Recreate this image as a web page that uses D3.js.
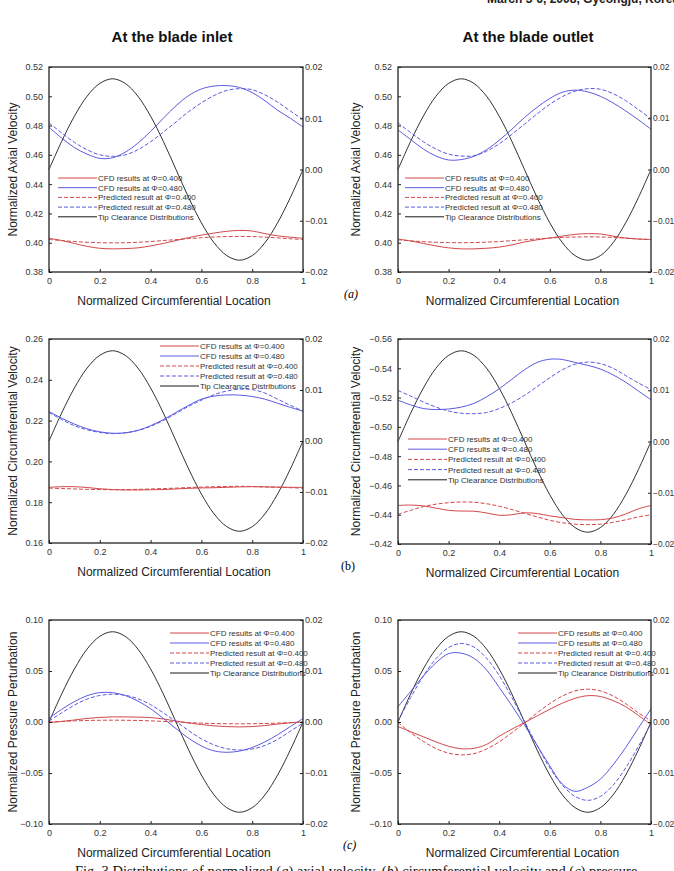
<!DOCTYPE html>
<html lang="en">
<head>
<meta charset="utf-8">
<title>Fig. 3 Distributions</title>
<script src="https://cdn.jsdelivr.net/npm/d3@7"></script>
<style>
  body { margin: 0; background: #fff; }
  svg { display: block; font-family: "Liberation Sans", Arial, sans-serif; }
  .tick text { fill: #333; font-size: 9px; }
  .rt .tick text { font-size: 8.4px; }
  .leg { fill: #333; font-size: 8px; }
  .ttl { font-size: 12px; fill: #222; }
</style>
</head>
<body>
<svg id="chart" width="674" height="871"></svg>
<script>
var locs = [0,0.05,0.1,0.15,0.2,0.25,0.3,0.35,0.4,0.45,0.5,0.55,0.6,0.65,0.7,0.75,0.8,0.85,0.9,0.95,1];
var xTicks = [0,0.2,0.4,0.6,0.8,1];
var tipTicks = [-0.02,-0.01,0,0.01,0.02];

// tip clearance (right axis), same for all panels
var tipClear = [0,0.0055,0.0104,0.0143,0.0168,0.0177,0.0168,0.0143,0.0104,0.0055,0,-0.0055,-0.0104,-0.0143,-0.0168,-0.0177,-0.0168,-0.0143,-0.0104,-0.0055,0];

// (a) axial velocity, inlet
var axInCfd400 = [0.4030,0.4015,0.3995,0.3975,0.3962,0.3958,0.3960,0.3965,0.3978,0.3995,0.4015,0.4035,0.4052,0.4066,0.4078,0.4084,0.4080,0.4062,0.4047,0.4038,0.4030];
var axInCfd480 = [0.4788,0.4715,0.4650,0.4605,0.4576,0.4580,0.4618,0.4680,0.4760,0.4850,0.4935,0.5005,0.5050,0.5070,0.5073,0.5060,0.5025,0.4970,0.4905,0.4850,0.4790];
var axInPre400 = [0.4022,0.4015,0.4008,0.4003,0.4000,0.3999,0.4000,0.4003,0.4008,0.4015,0.4021,0.4028,0.4034,0.4039,0.4042,0.4043,0.4042,0.4038,0.4033,0.4027,0.4022];
var axInPre480 = [0.4818,0.4750,0.4685,0.4635,0.4600,0.4590,0.4600,0.4635,0.4690,0.4755,0.4825,0.4895,0.4955,0.5005,0.5040,0.5052,0.5045,0.5010,0.4960,0.4900,0.4840];
// (a) axial velocity, outlet
var axOutCfd400 = [0.4025,0.4012,0.3995,0.3978,0.3965,0.3958,0.3958,0.3962,0.3970,0.3985,0.4005,0.4020,0.4032,0.4045,0.4057,0.4062,0.4060,0.4045,0.4032,0.4025,0.4022];
var axOutCfd480 = [0.4770,0.4705,0.4640,0.4592,0.4565,0.4568,0.4590,0.4635,0.4700,0.4775,0.4855,0.4925,0.4985,0.5028,0.5042,0.5030,0.5000,0.4955,0.4900,0.4840,0.4775];
var axOutPre400 = [0.4020,0.4013,0.4007,0.4003,0.4001,0.4000,0.4001,0.4004,0.4008,0.4014,0.4020,0.4026,0.4032,0.4036,0.4039,0.4040,0.4039,0.4036,0.4031,0.4026,0.4021];
var axOutPre480 = [0.4818,0.4752,0.4690,0.4640,0.4605,0.4592,0.4594,0.4625,0.4675,0.4740,0.4810,0.4880,0.4945,0.4998,0.5035,0.5052,0.5048,0.5018,0.4970,0.4910,0.4847];

// (b) circumferential velocity, inlet
var cvInCfd400 = [0.1873,0.1876,0.1876,0.1872,0.1866,0.1862,0.1860,0.1860,0.1861,0.1862,0.1865,0.1868,0.1870,0.1871,0.1873,0.1875,0.1876,0.1875,0.1874,0.1873,0.1873];
var cvInCfd480 = [0.2244,0.2212,0.2183,0.2160,0.2145,0.2138,0.2140,0.2152,0.2175,0.2205,0.2240,0.2275,0.2305,0.2320,0.2326,0.2325,0.2318,0.2305,0.2285,0.2265,0.2246];
var cvInPre400 = [0.1869,0.1867,0.1865,0.1863,0.1862,0.1861,0.1862,0.1863,0.1865,0.1867,0.1869,0.1872,0.1874,0.1876,0.1877,0.1878,0.1877,0.1875,0.1873,0.1871,0.1869];
var cvInPre480 = [0.2240,0.2205,0.2175,0.2155,0.2142,0.2136,0.2140,0.2152,0.2172,0.2200,0.2235,0.2270,0.2300,0.2327,0.2345,0.2354,0.2352,0.2335,0.2305,0.2275,0.2247];
// (b) circumferential velocity, outlet
var cvOutCfd400 = [-0.4463,-0.4466,-0.4460,-0.4445,-0.4430,-0.4425,-0.4424,-0.4412,-0.4396,-0.4400,-0.4413,-0.4408,-0.4392,-0.4380,-0.4368,-0.4365,-0.4366,-0.4378,-0.4405,-0.4440,-0.4463];
var cvOutCfd480 = [-0.5182,-0.5150,-0.5125,-0.5118,-0.5122,-0.5135,-0.5160,-0.5205,-0.5260,-0.5325,-0.5390,-0.5440,-0.5462,-0.5460,-0.5440,-0.5420,-0.5395,-0.5355,-0.5305,-0.5245,-0.5185];
var cvOutPre400 = [-0.4403,-0.4430,-0.4455,-0.4472,-0.4482,-0.4487,-0.4485,-0.4475,-0.4458,-0.4435,-0.4410,-0.4385,-0.4362,-0.4345,-0.4335,-0.4332,-0.4335,-0.4348,-0.4365,-0.4385,-0.4400];
var cvOutPre480 = [-0.5248,-0.5210,-0.5170,-0.5135,-0.5108,-0.5093,-0.5090,-0.5098,-0.5125,-0.5165,-0.5215,-0.5275,-0.5335,-0.5390,-0.5428,-0.5442,-0.5432,-0.5400,-0.5350,-0.5300,-0.5255];

// (c) pressure perturbation, inlet
var ppInCfd400 = [-0.0005,0.0005,0.0020,0.0035,0.0045,0.0050,0.0050,0.0048,0.0043,0.0030,0.0010,-0.0010,-0.0025,-0.0038,-0.0045,-0.0048,-0.0045,-0.0035,-0.0020,-0.0008,0.0000];
var ppInCfd480 = [0.0035,0.0125,0.0200,0.0258,0.0288,0.0288,0.0260,0.0205,0.0130,0.0035,-0.0065,-0.0160,-0.0235,-0.0283,-0.0297,-0.0285,-0.0250,-0.0195,-0.0125,-0.0045,0.0035];
var ppInPre400 = [0.0000,0.0006,0.0011,0.0015,0.0017,0.0018,0.0017,0.0015,0.0011,0.0006,0.0000,-0.0006,-0.0011,-0.0015,-0.0017,-0.0018,-0.0017,-0.0015,-0.0011,-0.0006,0.0000];
var ppInPre480 = [0.0010,0.0090,0.0165,0.0225,0.0260,0.0272,0.0262,0.0228,0.0170,0.0090,0.0005,-0.0085,-0.0165,-0.0225,-0.0262,-0.0275,-0.0265,-0.0230,-0.0170,-0.0090,-0.0010];
// (c) pressure perturbation, outlet
var ppOutCfd400 = [-0.0045,-0.0095,-0.0145,-0.0195,-0.0238,-0.0262,-0.0258,-0.0220,-0.0140,-0.0070,-0.0005,0.0060,0.0125,0.0185,0.0232,0.0258,0.0250,0.0210,0.0150,0.0065,-0.0025];
var ppOutCfd480 = [0.0150,0.0300,0.0450,0.0580,0.0670,0.0675,0.0625,0.0510,0.0340,0.0160,-0.0030,-0.0230,-0.0430,-0.0610,-0.0680,-0.0640,-0.0560,-0.0420,-0.0250,-0.0060,0.0130];
var ppOutPre400 = [-0.0005,-0.0105,-0.0190,-0.0260,-0.0305,-0.0322,-0.0310,-0.0265,-0.0195,-0.0105,-0.0010,0.0090,0.0180,0.0255,0.0305,0.0322,0.0305,0.0255,0.0180,0.0090,0.0010];
var ppOutPre480 = [0.0010,0.0240,0.0450,0.0620,0.0730,0.0770,0.0735,0.0625,0.0455,0.0240,0.0005,-0.0230,-0.0450,-0.0620,-0.0730,-0.0768,-0.0730,-0.0620,-0.0450,-0.0240,-0.0015];

var legendNames = ["CFD results at \u03a6=0.400","CFD results at \u03a6=0.480","Predicted result at \u03a6=0.400","Predicted result at \u03a6=0.480","Tip Clearance Distributions"];

var axTicks = [0.38,0.40,0.42,0.44,0.46,0.48,0.50,0.52];
var cvInTicks = [0.16,0.18,0.20,0.22,0.24,0.26];
var cvOutTicks = [-0.56,-0.54,-0.52,-0.50,-0.48,-0.46,-0.44,-0.42];
var ppTicks = [-0.10,-0.05,0,0.05,0.10];

var RED = "#d2484a", BLUE = "#5a5ae0", BLACK = "#1a1a1a";

var panels = [
  {box:[49,303,67,272], dom:[0.38,0.52], ticks:axTicks, ylab:"Normalized Axial Velocity", ylx:13, leg:[58,178,9.7],
   s:[axInCfd400,axInCfd480,axInPre400,axInPre480]},
  {box:[398,651,67,272], dom:[0.38,0.52], ticks:axTicks, ylab:"Normalized Axial Velocity", ylx:356, leg:[405,178,9.7],
   s:[axOutCfd400,axOutCfd480,axOutPre400,axOutPre480]},
  {box:[49,303,339,543], dom:[0.16,0.26], ticks:cvInTicks, ylab:"Normalized Circumferential  Velocity", ylx:13, leg:[160,346,10],
   s:[cvInCfd400,cvInCfd480,cvInPre400,cvInPre480]},
  {box:[398,651,339,544], dom:[-0.42,-0.56], ticks:cvOutTicks, ylab:"Normalized Circumferential Velocity", ylx:356, leg:[408,439,10.2],
   s:[cvOutCfd400,cvOutCfd480,cvOutPre400,cvOutPre480]},
  {box:[49,303,620,824], dom:[-0.10,0.10], ticks:ppTicks, ylab:"Normalized Pressure Perturbation", ylx:13, leg:[170,633,10],
   s:[ppInCfd400,ppInCfd480,ppInPre400,ppInPre480]},
  {box:[398,651,620,824], dom:[-0.10,0.10], ticks:ppTicks, ylab:"Normalized Pressure Perturbation", ylx:356, leg:[518,633,10],
   s:[ppOutCfd400,ppOutCfd480,ppOutPre400,ppOutPre480]}
];

var styles = [
  {c:RED, d:null}, {c:BLUE, d:null}, {c:RED, d:"4,2"}, {c:BLUE, d:"4,2"}, {c:BLACK, d:null}
];

var svg = d3.select("#chart");

function fmt2(v){ return v === 0 ? "0.00" : d3.format(".2f")(v); }
function xfmt(v){ return String(v); }

panels.forEach(function(p){
  var x = d3.scaleLinear().domain([0,1]).range([p.box[0], p.box[1]]);
  var y = d3.scaleLinear().domain(p.dom).range([p.box[3], p.box[2]]);
  var y2 = d3.scaleLinear().domain([-0.02,0.02]).range([p.box[3], p.box[2]]);
  var g = svg.append("g");

  var line = d3.line().x(function(d,i){ return x(locs[i]); }).y(function(d){ return y(d); }).curve(d3.curveCatmullRom);
  var line2 = d3.line().x(function(d,i){ return x(locs[i]); }).y(function(d){ return y2(d); }).curve(d3.curveCatmullRom);

  // black tip clearance curve first, then data
  g.append("path").attr("d", line2(tipClear)).attr("fill","none")
    .attr("stroke", BLACK).attr("stroke-width", 0.9);
  p.s.forEach(function(arr, k){
    g.append("path").attr("d", line(arr)).attr("fill","none")
      .attr("stroke", styles[k].c).attr("stroke-width", 1)
      .attr("stroke-dasharray", styles[k].d);
  });

  // axes, ticks inside
  g.append("g").attr("transform","translate(0,"+p.box[3]+")")
    .call(d3.axisBottom(x).tickValues(xTicks).tickSizeInner(-3).tickSizeOuter(0).tickPadding(6).tickFormat(xfmt));
  g.append("g").attr("transform","translate("+p.box[0]+",0)")
    .call(d3.axisLeft(y).tickValues(p.ticks).tickSizeInner(-3).tickSizeOuter(0).tickPadding(6).tickFormat(fmt2));
  g.append("g").attr("class", p.box[1] > 600 ? "rt" : null).attr("transform","translate("+p.box[1]+",0)")
    .call(d3.axisRight(y2).tickValues(tipTicks).tickSizeInner(-3).tickSizeOuter(0).tickPadding(2).tickFormat(fmt2));
  g.selectAll(".domain").remove();
  g.selectAll(".tick line").attr("stroke","#222");
  g.append("rect").attr("x",p.box[0]).attr("y",p.box[2])
    .attr("width",p.box[1]-p.box[0]).attr("height",p.box[3]-p.box[2])
    .attr("fill","none").attr("stroke","#222").attr("stroke-width",1.3);

  // axis titles
  g.append("text").attr("class","ttl").attr("text-anchor","middle")
    .attr("transform","translate("+(p.ylx+4)+","+((p.box[2]+p.box[3])/2)+") rotate(-90)")
    .text(p.ylab);
  g.append("text").attr("class","ttl").attr("text-anchor","middle")
    .attr("x",(p.box[0]+p.box[1])/2 - 2).attr("y",p.box[3]+33)
    .text("Normalized Circumferential Location");

  // legend
  legendNames.forEach(function(name,k){
    var ly = p.leg[1] + k*p.leg[2];
    g.append("line").attr("x1",p.leg[0]).attr("x2",p.leg[0]+39).attr("y1",ly).attr("y2",ly)
      .attr("stroke",styles[k].c).attr("stroke-width",1).attr("stroke-dasharray",styles[k].d);
    g.append("text").attr("class","leg").attr("x",p.leg[0]+40).attr("y",ly+3).text(name);
  });
});

// column titles and header
svg.append("text").attr("x",172).attr("y",42).attr("text-anchor","middle")
  .attr("font-weight","bold").attr("font-size","15px").attr("fill","#111").text("At the blade inlet");
svg.append("text").attr("x",528).attr("y",42).attr("text-anchor","middle")
  .attr("font-weight","bold").attr("font-size","15px").attr("fill","#111").text("At the blade outlet");
svg.append("text").attr("x",487).attr("y",3).attr("font-weight","bold").attr("font-size","12px")
  .attr("fill","#222").text("March 3-6, 2008, Gyeongju, Korea");

// sub-figure labels
var serif = "'Liberation Serif', 'Times New Roman', serif";
svg.append("text").attr("x",344).attr("y",298).attr("font-family",serif).attr("font-style","italic")
  .attr("font-size","12px").text("(a)");
svg.append("text").attr("x",341).attr("y",570).attr("font-family",serif)
  .attr("font-size","12px").text("(b)");
svg.append("text").attr("x",343).attr("y",849).attr("font-family",serif).attr("font-style","italic")
  .attr("font-size","12px").text("(c)");

// caption (cut off by the bottom edge)
var cap = svg.append("text").attr("x",75).attr("y",876).attr("font-family",serif).attr("font-size","14.5px").attr("fill","#111");
cap.append("tspan").text("Fig. 3 Distributions of normalized (");
cap.append("tspan").attr("font-style","italic").text("a");
cap.append("tspan").text(") axial velocity, (");
cap.append("tspan").attr("font-style","italic").text("b");
cap.append("tspan").text(") circumferential velocity and (");
cap.append("tspan").attr("font-style","italic").text("c");
cap.append("tspan").text(") pressure");
</script>
</body>
</html>
